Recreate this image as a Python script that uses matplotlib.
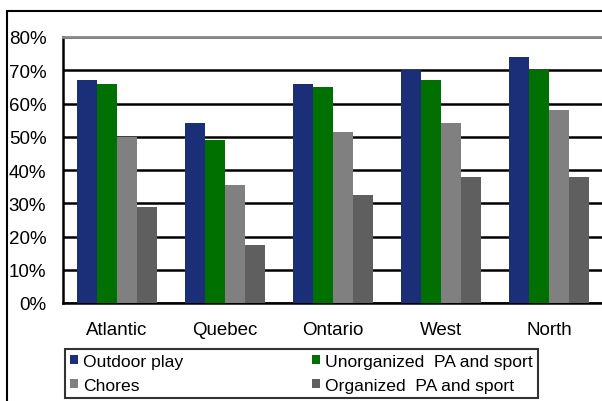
import matplotlib
matplotlib.use('Agg')
import numpy as np
from matplotlib import pyplot as plt
from matplotlib.patches import Rectangle

regions = ['Atlantic', 'Quebec', 'Ontario', 'West', 'North']
outdoor_play = [67, 54, 66, 70, 74]
unorganized = [66, 49, 65, 67, 70]
chores = [50, 35.5, 51.5, 54, 58]
organized = [29, 17.5, 32.5, 38, 38]

series = [
    ('Outdoor play', outdoor_play, '#1b2f78'),
    ('Unorganized  PA and sport', unorganized, '#007000'),
    ('Chores', chores, '#808080'),
    ('Organized  PA and sport', organized, '#5f5f5f'),
]

plt.rcParams['font.family'] = ['Liberation Sans', 'DejaVu Sans']
fs = 13.5

fig = plt.figure(figsize=(6.02, 4.02), dpi=100)
W, H = 602, 402

# outer chart frame (cropped on the right / bottom)
fig.patches.append(Rectangle((7 / W, -0.1), 1.2, (H - 12) / H + 0.1,
                             transform=fig.transFigure, fill=False,
                             edgecolor='black', lw=1.5))

ax = fig.add_axes([63 / W, (H - 304) / H, 540 / W, 266 / H])

x = np.arange(len(regions))
width = 0.185
bars = []
for i, (name, vals, color) in enumerate(series):
    b = ax.bar(x + (i - 1.5) * width, vals, width, color=color, label=name, zorder=3)
    bars.append(b)

ax.set_xlim(-0.5, len(regions) - 0.5)
ax.set_ylim(0, 80)
ax.set_yticks(range(0, 81, 10))
ax.set_yticklabels([f'{v}%' for v in range(0, 81, 10)], fontsize=fs)
ax.set_xticks(x)
ax.set_xticklabels(regions, fontsize=fs)
ax.tick_params(length=0)
ax.tick_params(axis='y', pad=12)
ax.tick_params(axis='x', pad=13)

ax.yaxis.grid(True, color='black', lw=1.8, zorder=1)
ax.spines['top'].set_color('#888888')
ax.spines['top'].set_linewidth(2)
ax.spines['right'].set_visible(False)
ax.spines['left'].set_linewidth(1.8)
ax.spines['bottom'].set_linewidth(1.8)

# legend rows: Outdoor | Unorganized, Chores | Organized (column-major order)
order = [0, 2, 1, 3]
leg = fig.legend([bars[k] for k in order], [series[k][0] for k in order],
                 loc='lower left', ncol=2, mode='expand',
                 bbox_to_anchor=(65 / W, (H - 399) / H, 473 / W, 51 / H),
                 fontsize=12.6, frameon=True, fancybox=False,
                 handlelength=0.45, handleheight=0.45, handletextpad=0.3,
                 borderpad=0.3, labelspacing=0.5, borderaxespad=0,
                 columnspacing=1.0)
leg.get_frame().set_edgecolor('black')
leg.get_frame().set_linewidth(1.5)

fig.savefig('out.png', dpi=100)
